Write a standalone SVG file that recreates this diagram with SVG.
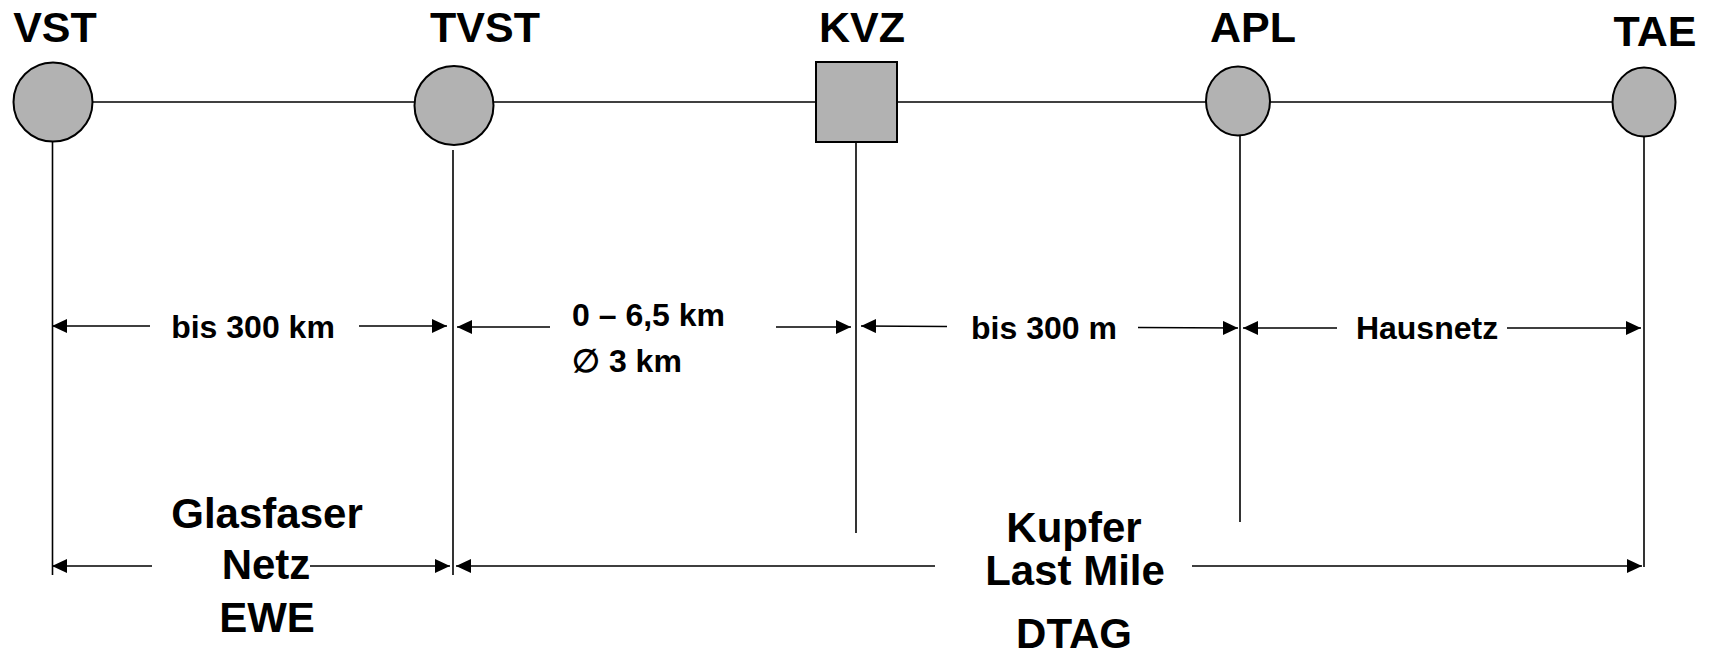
<svg xmlns="http://www.w3.org/2000/svg" width="1711" height="653" viewBox="0 0 1711 653">
<style>
.node{fill:#b2b2b2;stroke:#000;stroke-width:2}
.title{font-family:"Liberation Sans",Arial,sans-serif;font-weight:bold;font-size:43px;fill:#000;text-anchor:middle}
.dim{font-family:"Liberation Sans",Arial,sans-serif;font-weight:bold;font-size:32px;fill:#000}
.big{font-family:"Liberation Sans",Arial,sans-serif;font-weight:bold;font-size:42px;fill:#000;text-anchor:middle}
.ln{stroke:#000;stroke-width:1.6;fill:none}
.arr{stroke:#000;stroke-width:1.6;fill:none;marker-start:url(#ah);marker-end:url(#ah)}
</style>
<defs>
<marker id="ah" markerUnits="userSpaceOnUse" markerWidth="15" markerHeight="14" refX="15" refY="7" orient="auto-start-reverse" viewBox="0 0 15 14">
<path d="M0,0 L15,7 L0,14 z" fill="#000"/>
</marker>
</defs>
<g id="connectors">
<line class="ln" x1="53" y1="102" x2="1644" y2="102"/>
<line class="ln" x1="52.5" y1="142" x2="52.5" y2="575"/>
<line class="ln" x1="453" y1="150" x2="453" y2="575"/>
<line class="ln" x1="856" y1="142" x2="856" y2="533"/>
<line class="ln" x1="1240" y1="133" x2="1240" y2="522"/>
<line class="ln" x1="1644" y1="136" x2="1644" y2="567"/>
<path class="arr" d="M52,326 L150,326 M359,326 L447,326"/>
<path class="arr" d="M457,327 L550,327 M776,327 L851,327"/>
<path class="arr" d="M861,326 L947,326.5 M1138,327.5 L1238,328"/>
<path class="arr" d="M1243,328 L1337,328 M1507,328 L1641,328"/>
<path class="arr" d="M52,566 L152,566 M310,566 L450,566"/>
<path class="arr" d="M456,566 L935,566 M1192,566 L1642,566"/>
</g>
<g id="VST">
<circle class="node" cx="53" cy="102" r="39.5"/>
<text class="title" x="55" y="42">VST</text>
</g>
<g id="TVST">
<circle class="node" cx="454" cy="105.5" r="39.5"/>
<text class="title" x="485" y="42">TVST</text>
</g>
<g id="KVZ">
<rect class="node" x="816" y="62" width="81" height="80"/>
<text class="title" x="862" y="41.5">KVZ</text>
</g>
<g id="APL">
<ellipse class="node" cx="1238" cy="101" rx="32" ry="34.5"/>
<text class="title" x="1253" y="41.5">APL</text>
</g>
<g id="TAE">
<ellipse class="node" cx="1644" cy="102" rx="31.5" ry="34.5"/>
<text class="title" x="1655" y="46">TAE</text>
</g>
<g id="labels">
<text class="dim" x="253" y="338" text-anchor="middle">bis 300 km</text>
<text class="dim" x="572" y="326">0 – 6,5 km</text>
<text class="dim" x="572" y="372">∅ 3 km</text>
<text class="dim" x="1044" y="339" text-anchor="middle">bis 300 m</text>
<text class="dim" x="1427" y="339" text-anchor="middle">Hausnetz</text>
<text class="big" x="267" y="528">Glasfaser</text>
<text class="big" x="266" y="579">Netz</text>
<text class="big" x="267" y="632">EWE</text>
<text class="big" x="1074" y="542">Kupfer</text>
<text class="big" x="1075" y="585">Last Mile</text>
<text class="big" x="1074" y="648">DTAG</text>
</g>
</svg>
